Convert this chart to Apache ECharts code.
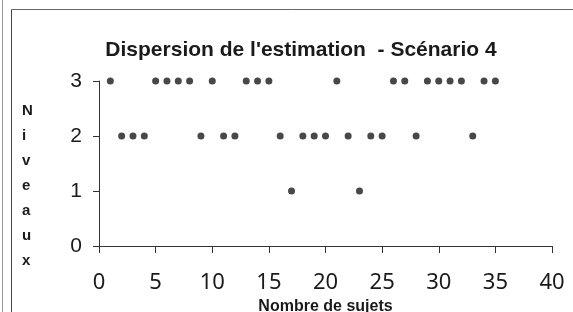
<!DOCTYPE html>
<html style="height: 100%">
<head>
<meta charset="utf-8">
<script src="https://cdn.jsdelivr.net/npm/echarts@6/dist/echarts.min.js"></script>
</head>
<body style="height: 100%; margin: 0; background: #fff">
<div id="container" style="width: 573px; height: 312px"></div>
<script type="text/javascript">
// sujets 1..35 et niveau estimé
var sujets = [1, 2, 3, 4, 5, 6, 7, 8, 9, 10, 11, 12, 13, 14, 15, 16, 17, 18, 19, 20,
              21, 22, 23, 24, 25, 26, 27, 28, 29, 30, 31, 32, 33, 34, 35];
var niveaux = [3, 2, 2, 2, 3, 3, 3, 3, 2, 3, 2, 2, 3, 3, 3, 2, 1, 2, 2, 2,
               3, 2, 1, 2, 2, 3, 3, 2, 3, 3, 3, 3, 2, 3, 3];
var xTicks = [0, 5, 10, 15, 20, 25, 30, 35, 40];
var yTicks = [0, 1, 2, 3];

var points = [];
for (var i = 0; i < sujets.length; i++) {
    points.push([sujets[i], niveaux[i]]);
}

var myChart = echarts.init(document.getElementById('container'));
var option = {
    backgroundColor: '#fff',
    animation: false,
    title: {
        text: "Dispersion de l'estimation  - Scénario 4",
        left: 296,
        textAlign: 'center',
        top: 35,
        textStyle: { fontFamily: 'Liberation Sans', fontSize: 21, fontWeight: 'bold', color: '#1a1a1a' }
    },
    graphic: [
        { type: 'line', shape: { x1: 11.5, y1: 9.5, x2: 573, y2: 9.5 }, style: { stroke: '#666', lineWidth: 1 } },
        { type: 'line', shape: { x1: 11.5, y1: 9.5, x2: 11.5, y2: 312 }, style: { stroke: '#444', lineWidth: 1 } },
        { type: 'line', shape: { x1: 2.5, y1: 0, x2: 2.5, y2: 312 }, style: { stroke: '#999', lineWidth: 1 } },
        {
            type: 'text', left: 22, top: 98,
            style: {
                text: 'N\ni\nv\ne\na\nu\nx', fontFamily: 'Liberation Sans', fontSize: 15,
                fontWeight: 'bold', lineHeight: 25, fill: '#1a1a1a', align: 'center', width: 14
            }
        }
    ],
    grid: { left: 99, right: 21, top: 81, bottom: 66, outerBoundsMode: 'none' },
    xAxis: {
        type: 'value', min: xTicks[0], max: xTicks[xTicks.length - 1], interval: 5,
        name: 'Nombre de sujets', nameLocation: 'middle', nameGap: 48,
        nameTextStyle: { fontFamily: 'Liberation Sans', fontSize: 16, fontWeight: 'bold', color: '#1a1a1a' },
        axisLine: { lineStyle: { color: '#333', width: 1 } },
        axisTick: { show: true, length: 7, lineStyle: { color: '#333' } },
        axisLabel: { fontFamily: 'Noto Sans', fontSize: 22, color: '#1a1a1a', margin: 26 },
        splitLine: { show: false }
    },
    yAxis: {
        type: 'value', min: yTicks[0], max: yTicks[yTicks.length - 1], interval: 1,
        axisLine: { show: true, lineStyle: { color: '#333', width: 1 } },
        axisTick: { show: true, length: 6, lineStyle: { color: '#333' } },
        axisLabel: { fontFamily: 'Liberation Sans', fontSize: 21, color: '#1a1a1a', margin: 17 },
        splitLine: { show: false }
    },
    series: [{
        type: 'scatter',
        data: points,
        symbolSize: 7,
        itemStyle: { color: '#1a1a1a' }
    }]
};
myChart.setOption(option);
</script>
</body>
</html>
